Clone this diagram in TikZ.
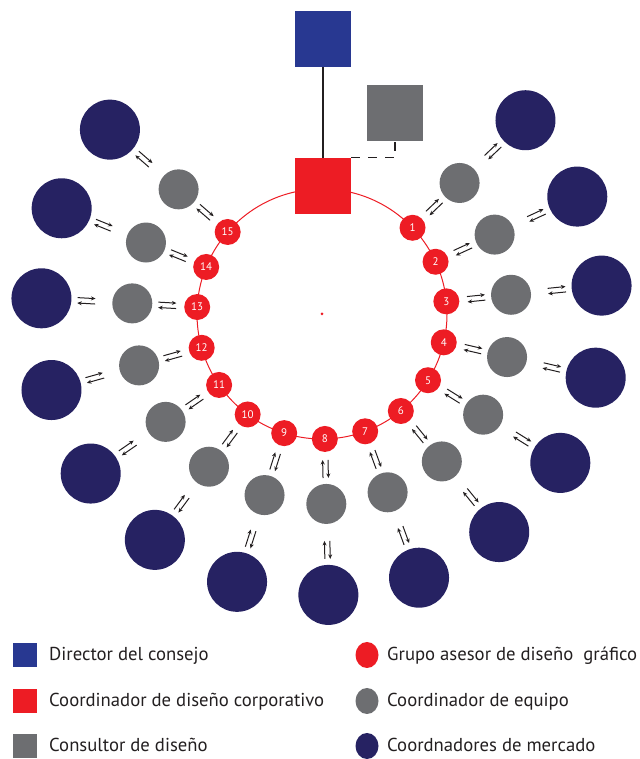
\documentclass[tikz,border=0pt]{standalone}
\usepackage{fontspec}
\setmainfont{PT Sans}
\usetikzlibrary{calc,arrows.meta,shapes.geometric}
\definecolor{cblue}{RGB}{40,56,145}
\definecolor{cred}{RGB}{237,28,36}
\definecolor{cgray}{RGB}{109,110,113}
\definecolor{cnavy}{RGB}{38,34,98}
\definecolor{cink}{RGB}{35,31,32}
\begin{document}
\begin{tikzpicture}[x=1pt,y=1pt,
  sq/.style={rectangle, minimum size=56pt, inner sep=0pt},
  legsq/.style={rectangle, minimum size=24pt, inner sep=0pt},
  legdot/.style={ellipse, minimum width=23pt, minimum height=26pt, inner sep=0pt},
  redc/.style={circle, fill=cred, minimum size=26pt, inner sep=0pt, text=white, font=\fontsize{11}{11}\selectfont},
  grayc/.style={circle, fill=cgray, minimum size=40pt, inner sep=0pt},
  navyc/.style={circle, fill=cnavy, minimum size=60pt, inner sep=0pt},
  arr/.style={draw=cink, line width=1pt, -{Stealth[length=4.5pt,width=4pt]}},
  legtext/.style={anchor=base west, inner sep=0pt, font=\fontsize{18.7}{22}\selectfont, text=cink},
  ]
\useasboundingbox (0,0) rectangle (639,759);
\coordinate (C) at (322,445);
\draw[cred, line width=1pt] (C) circle (125);
\fill[cred] (C) circle (1.5);
\node[sq, fill=cblue] (dir) at (323,720) {};
\node[sq, fill=cgray] (cons) at (395,646) {};
\node[sq, fill=cred] (coord) at (323,573) {};
\draw[cink, line width=1.3pt] (dir.south) -- (coord.north);
\draw[cink, line width=1.4pt, dash pattern=on 9pt off 8pt] (coord.north east) -| (cons.south);
\foreach \i in {1,...,15} {
  \pgfmathsetmacro\a{43.6-18.9*(\i-1)}
  \node[redc] (r\i) at ($(C)+(\a:125)$) {\i};
  \node[grayc] (g\i) at ($(C)+(\a:190)$) {};
  \node[navyc] (n\i) at ($(C)+(\a:281)$) {};
  \draw[arr, shorten <=21pt, shorten >=26pt] ($(r\i)!2.7pt!90:(g\i)$) -- ($(g\i)!2.7pt!-90:(r\i)$);
  \draw[arr, shorten <=26pt, shorten >=21pt] ($(g\i)!2.7pt!90:(r\i)$) -- ($(r\i)!2.7pt!-90:(g\i)$);
  \draw[arr, shorten <=37pt, shorten >=36pt] ($(g\i)!2.7pt!90:(n\i)$) -- ($(n\i)!2.7pt!-90:(g\i)$);
  \draw[arr, shorten <=36pt, shorten >=37pt] ($(n\i)!2.7pt!90:(g\i)$) -- ($(g\i)!2.7pt!-90:(n\i)$);
}
% legend
\node[legsq, fill=cblue] (l1) at (25,104) {};
\node[legtext] (t1) at (49,98) {Director del consejo};
\node[legsq, fill=cred] (l2) at (25,58) {};
\node[legtext] (t2) at (49,52) {Coordinador de diseño corporativo};
\node[legsq, fill=cgray] (l3) at (25,13) {};
\node[legtext] (t3) at (49,7) {Consultor de diseño};
\node[legdot, fill=cred] (l4) at (367,104) {};
\node[legtext] (t4) at (387,98) {Grupo asesor de diseño\ \ gráfico};
\node[legdot, fill=cgray] (l5) at (367,58) {};
\node[legtext] (t5) at (387,52) {Coordinador de equipo};
\node[legdot, fill=cnavy] (l6) at (367,13) {};
\node[legtext] (t6) at (387,7) {Coordnadores de mercado};
\end{tikzpicture}
\end{document}
